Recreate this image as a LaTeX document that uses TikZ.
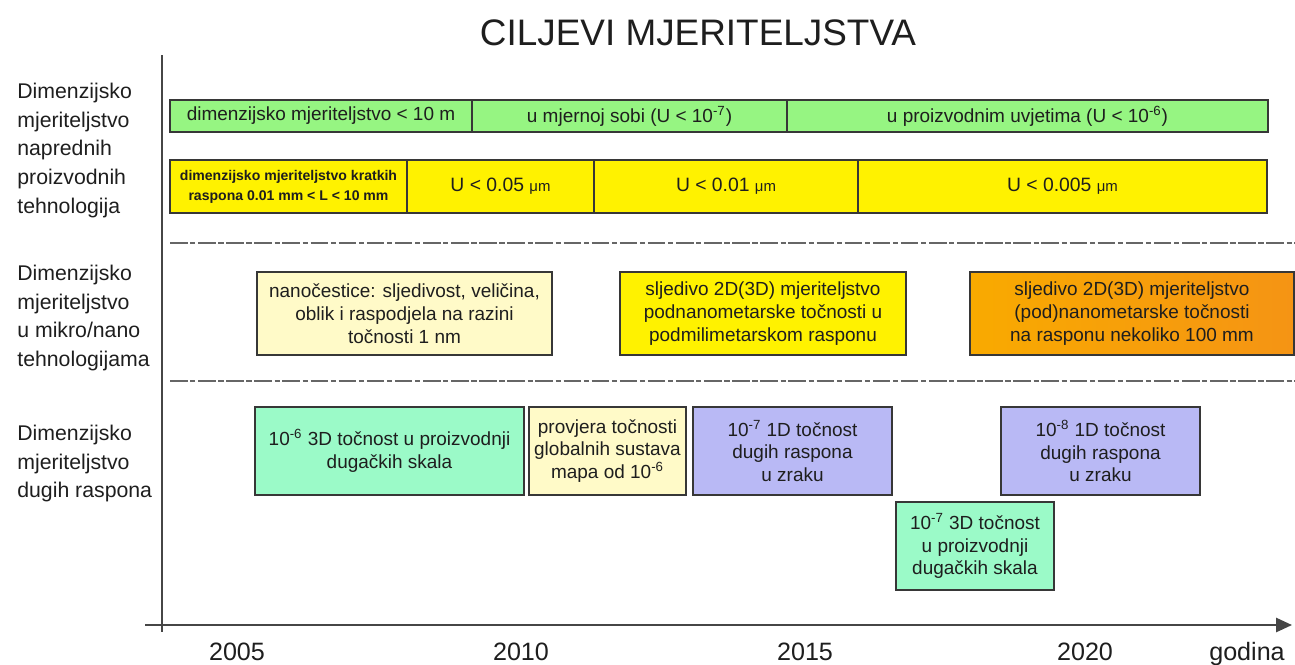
\documentclass[tikz,border=0pt]{standalone}
\usepackage{fontspec}
\setmainfont{Liberation Sans}
\usetikzlibrary{arrows.meta}
\definecolor{barGreen}{RGB}{150,245,130}
\definecolor{pYellow}{RGB}{255,250,200}
\definecolor{mint}{RGB}{155,250,200}
\definecolor{lav}{RGB}{185,185,245}
\definecolor{orgA}{RGB}{249,170,0}
\definecolor{orgB}{RGB}{245,148,20}
\definecolor{edge}{RGB}{55,55,55}
\definecolor{ink}{RGB}{30,30,30}
\definecolor{axisgray}{RGB}{70,70,70}
\newcommand{\um}{{\fontsize{8.5}{10}\selectfont μm}}
\begin{document}
\begin{tikzpicture}[x=0.02cm,y=-0.02cm,
  wh/.style 2 args={minimum width=#1*0.02cm, minimum height=#2*0.02cm},
  cell/.style={draw=edge, line width=0.8pt, inner sep=0pt, align=center, text=ink,
    font=\fontsize{10.8}{13}\selectfont},
  gcell/.style={cell, fill=barGreen},
  ycell/.style={cell, fill=yellow, font=\fontsize{11}{13}\selectfont},
  lab/.style={anchor=north west, inner sep=0pt, align=left, text=ink,
    font=\fontsize{12.1}{16.4}\selectfont},
  year/.style={anchor=base, inner sep=0pt, text=ink, font=\fontsize{14.3}{16}\selectfont},
  dashline/.style={draw=black!60, line width=1pt, dash pattern=on 10pt off 1.5pt on 3pt off 1.5pt},
  axisline/.style={draw=axisgray, line width=1.2pt}]
\useasboundingbox (0,0) rectangle (1295,664);

% title
\node[text=ink, font=\fontsize{21}{24}\selectfont] (title) at (698,33) {CILJEVI MJERITELJSTVA};

% row labels
\node[lab] (lab1) at (17,82.5) {Dimenzijsko\\mjeriteljstvo\\naprednih\\proizvodnih\\tehnologija};
\node[lab] (lab2) at (17,264.5) {Dimenzijsko\\mjeriteljstvo\\u mikro/nano\\tehnologijama};
\node[lab] (lab3) at (17,424.5) {Dimenzijsko\\mjeriteljstvo\\dugih raspona};

% axes
\coordinate (vtop) at (162,55);
\coordinate (vbot) at (162,632);
\coordinate (hl) at (145,625);
\coordinate (hr) at (1292,625);
\draw[axisline] (vtop) -- (vbot);
\draw[axisline, -{Triangle[length=9pt,width=8pt]}] (hl) -- (hr);

% years
\node[year] (y2005) at (237,660) {2005};
\node[year] (y2010) at (521,660) {2010};
\node[year] (y2015) at (805,660) {2015};
\node[year] (y2020) at (1085,660) {2020};
\node[year] (ygod) at (1247,660) {godina};

% green bar
\node[gcell, wh={302}{32}] (g1) at (321,116) {dimenzijsko mjeriteljstvo < 10 m};
\node[gcell, wh={315}{32}] (g2) at (629.5,116) {u mjernoj sobi (U < 10\textsuperscript{-7})};
\node[gcell, wh={481}{32}] (g3) at (1027.5,116) {u proizvodnim uvjetima (U < 10\textsuperscript{-6})};

% yellow bar
\node[ycell, wh={237}{53}, font=\bfseries\fontsize{8}{11.3}\selectfont] (y1) at (288.5,186.5)
  {dimenzijsko mjeriteljstvo kratkih\\raspona 0.01 mm < L < 10 mm};
\node[ycell, wh={187}{53}] (y2) at (500.5,186.5) {U < 0.05 \um};
\node[ycell, wh={264}{53}] (y3) at (726,186.5) {U < 0.01 \um};
\node[ycell, wh={409}{53}] (y4) at (1062.5,186.5) {U < 0.005 \um};

% dashed separators
\coordinate (d1s) at (170,243);
\coordinate (d1e) at (1295,243);
\coordinate (d2s) at (170,381);
\coordinate (d2e) at (1295,381);
\draw[dashline] (d1s) -- (d1e);
\draw[dashline] (d2s) -- (d2e);

% row 2
\node[cell, fill=pYellow, wh={295}{83}] (nano) at (404.5,313.5)
  {nanočestice: sljedivost, veličina,\\oblik i raspodjela na razini\\točnosti 1 nm};
\node[cell, fill=yellow, wh={286}{83}] (sl1) at (763,313.5)
  {sljedivo 2D(3D) mjeriteljstvo\\podnanometarske točnosti u\\podmilimetarskom rasponu};
\node[cell, left color=orgA, middle color=orgA, right color=orgB, wh={324}{83}] (sl2) at (1132,313.5)
  {sljedivo 2D(3D) mjeriteljstvo\\(pod)nanometarske točnosti\\na rasponu nekoliko 100 mm};

% row 3
\node[cell, fill=mint, wh={269}{88}] (b1) at (389.5,451)
  {10\textsuperscript{-6} 3D točnost u proizvodnji\\dugačkih skala};
\node[cell, fill=pYellow, wh={157}{88}] (b2) at (607.5,451)
  {provjera točnosti\\globalnih sustava\\mapa od 10\textsuperscript{-6}};
\node[cell, fill=lav, wh={199}{88}] (b3) at (792.5,451)
  {10\textsuperscript{-7} 1D točnost\\dugih raspona\\u zraku};
\node[cell, fill=lav, wh={199}{88}] (b4) at (1100.5,451)
  {10\textsuperscript{-8} 1D točnost\\dugih raspona\\u zraku};
\node[cell, fill=mint, wh={158}{88}] (b5) at (975,546)
  {10\textsuperscript{-7} 3D točnost\\u proizvodnji\\dugačkih skala};
\end{tikzpicture}
\end{document}
